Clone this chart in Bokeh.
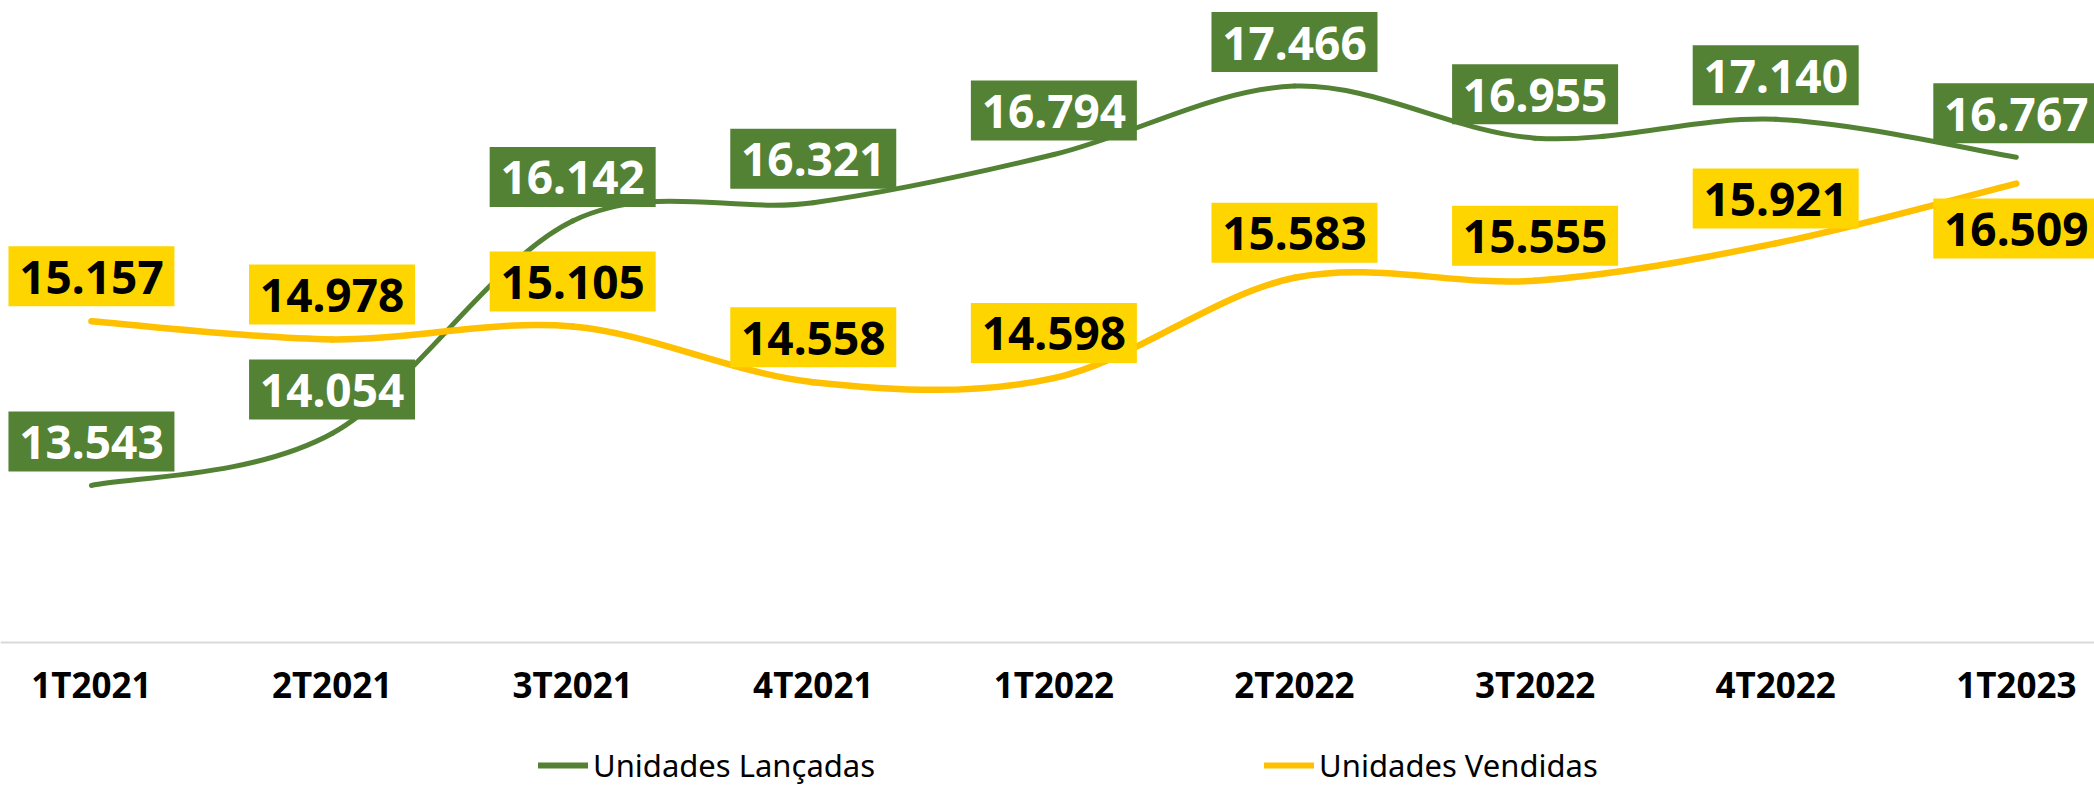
from bokeh.plotting import figure
from bokeh.models import (ColumnDataSource, Legend, LegendItem, Range1d, Span)
from bokeh.core.properties import value
from bokeh.embed import file_html
from bokeh.resources import INLINE

# ---------------- data ----------------
categories = ["1T2021", "2T2021", "3T2021", "4T2021", "1T2022",
              "2T2022", "3T2022", "4T2022", "1T2023"]
lancadas = [13543, 14054, 16142, 16321, 16794, 17466, 16955, 17140, 16767]
vendidas = [15157, 14978, 15105, 14558, 14598, 15583, 15555, 15921, 16509]
series_names = ["Unidades Lançadas", "Unidades Vendidas"]
axis_min = 12000

# ---------------- style ----------------
GREEN = "#548235"
YELLOW_LINE = "#FFC000"
YELLOW_BOX = "#FFD500"
FONT = "Noto Sans"

W, H = 2094, 786
Y0, Y1 = 10586, 18307

p = figure(width=W, height=H, output_backend="svg", toolbar_location=None,
           x_range=Range1d(-0.378, 8.325), y_range=Range1d(Y0, Y1),
           x_axis_location=None, y_axis_location=None,
           min_border_left=0, min_border_right=0, min_border_top=0, min_border_bottom=0)
p.outline_line_color = None
p.xgrid.visible = False
p.ygrid.visible = False
p.background_fill_color = "white"
p.border_fill_color = "white"

xs = list(range(len(categories)))

# category axis line
p.add_layout(Span(location=axis_min, dimension="width", line_color="#D9D9D9", line_width=2))


def bezier_source(vals, t=1.0 / 6.0):
    n = len(vals)
    d = dict(x0=[], y0=[], x1=[], y1=[], cx0=[], cy0=[], cx1=[], cy1=[])
    for i in range(n - 1):
        im1 = max(i - 1, 0)
        ip2 = min(i + 2, n - 1)
        d["x0"].append(xs[i]); d["y0"].append(vals[i])
        d["x1"].append(xs[i + 1]); d["y1"].append(vals[i + 1])
        d["cx0"].append(xs[i] + (xs[i + 1] - xs[im1]) * t)
        d["cy0"].append(vals[i] + (vals[i + 1] - vals[im1]) * t)
        d["cx1"].append(xs[i + 1] - (xs[ip2] - xs[i]) * t)
        d["cy1"].append(vals[i + 1] - (vals[ip2] - vals[i]) * t)
    return ColumnDataSource(d)


def fmt(v):
    return f"{v:,}".replace(",", ".")


p.bezier(x0="x0", y0="y0", x1="x1", y1="y1", cx0="cx0", cy0="cy0", cx1="cx1", cy1="cy1",
         source=bezier_source(lancadas), line_color=GREEN, line_width=5, line_cap="round")
p.bezier(x0="x0", y0="y0", x1="x1", y1="y1", cx0="cx0", cy0="cy0", cx1="cx1", cy1="cy1",
         source=bezier_source(vendidas), line_color=YELLOW_LINE, line_width=6.5, line_cap="round")

# legend proxies (hidden renderers, same data)
lg = p.line(x=xs, y=lancadas, line_color=GREEN, line_width=6, line_cap="round", visible=False)
ly = p.line(x=xs, y=vendidas, line_color=YELLOW_LINE, line_width=6, line_cap="round", visible=False)

# data labels: boxes + text; offsets in screen px (negative = above the point)
px_to_data = (Y1 - Y0) / H
FS = 46
BASE_ADJ = 0.02 * FS  # empirical baseline correction for svg text


def label_source(vals, offs):
    return ColumnDataSource(dict(
        x=xs, y=vals, t=[fmt(v) for v in vals],
        yc=[v - o * px_to_data for v, o in zip(vals, offs)],
        o=[o + BASE_ADJ for o in offs]))


off_g = [-44] * len(lancadas)
off_y = [-45] * (len(vendidas) - 1) + [45]
src_g = label_source(lancadas, off_g)
src_y = label_source(vendidas, off_y)

for src, box, col in ((src_g, GREEN, "white"), (src_y, YELLOW_BOX, "black")):
    p.rect(x="x", y="yc", width=166, height=60, width_units="screen",
           height_units="screen", source=src, fill_color=box, line_color=None)
    p.text(x="x", y="y", text="t", source=src, y_offset="o", text_align="center",
           text_baseline="alphabetic", text_font=value(FONT), text_font_style="bold",
           text_font_size=f"{FS}px", text_color=col)

# category labels under the axis line
TFS = 35
cat_src = ColumnDataSource(dict(x=xs, y=[axis_min] * len(xs), t=categories))
p.text(x="x", y="y", text="t", source=cat_src, y_offset=42,
       text_align="center", text_baseline="alphabetic", text_font=value(FONT),
       text_font_style="bold", text_font_size=f"{TFS}px", text_color="black")

legend = Legend(items=[LegendItem(label=series_names[0], renderers=[lg]),
                       LegendItem(label=series_names[1], renderers=[ly])],
                orientation="horizontal", location=(538, 0),
                glyph_width=50, glyph_height=20, label_standoff=5, spacing=389,
                padding=0, margin=0, border_line_color=None, background_fill_alpha=0,
                label_text_font=FONT, label_text_font_size="31px",
                label_text_color="black")
p.add_layout(legend, "center")

open("out.html", "w").write(file_html(p, INLINE))
